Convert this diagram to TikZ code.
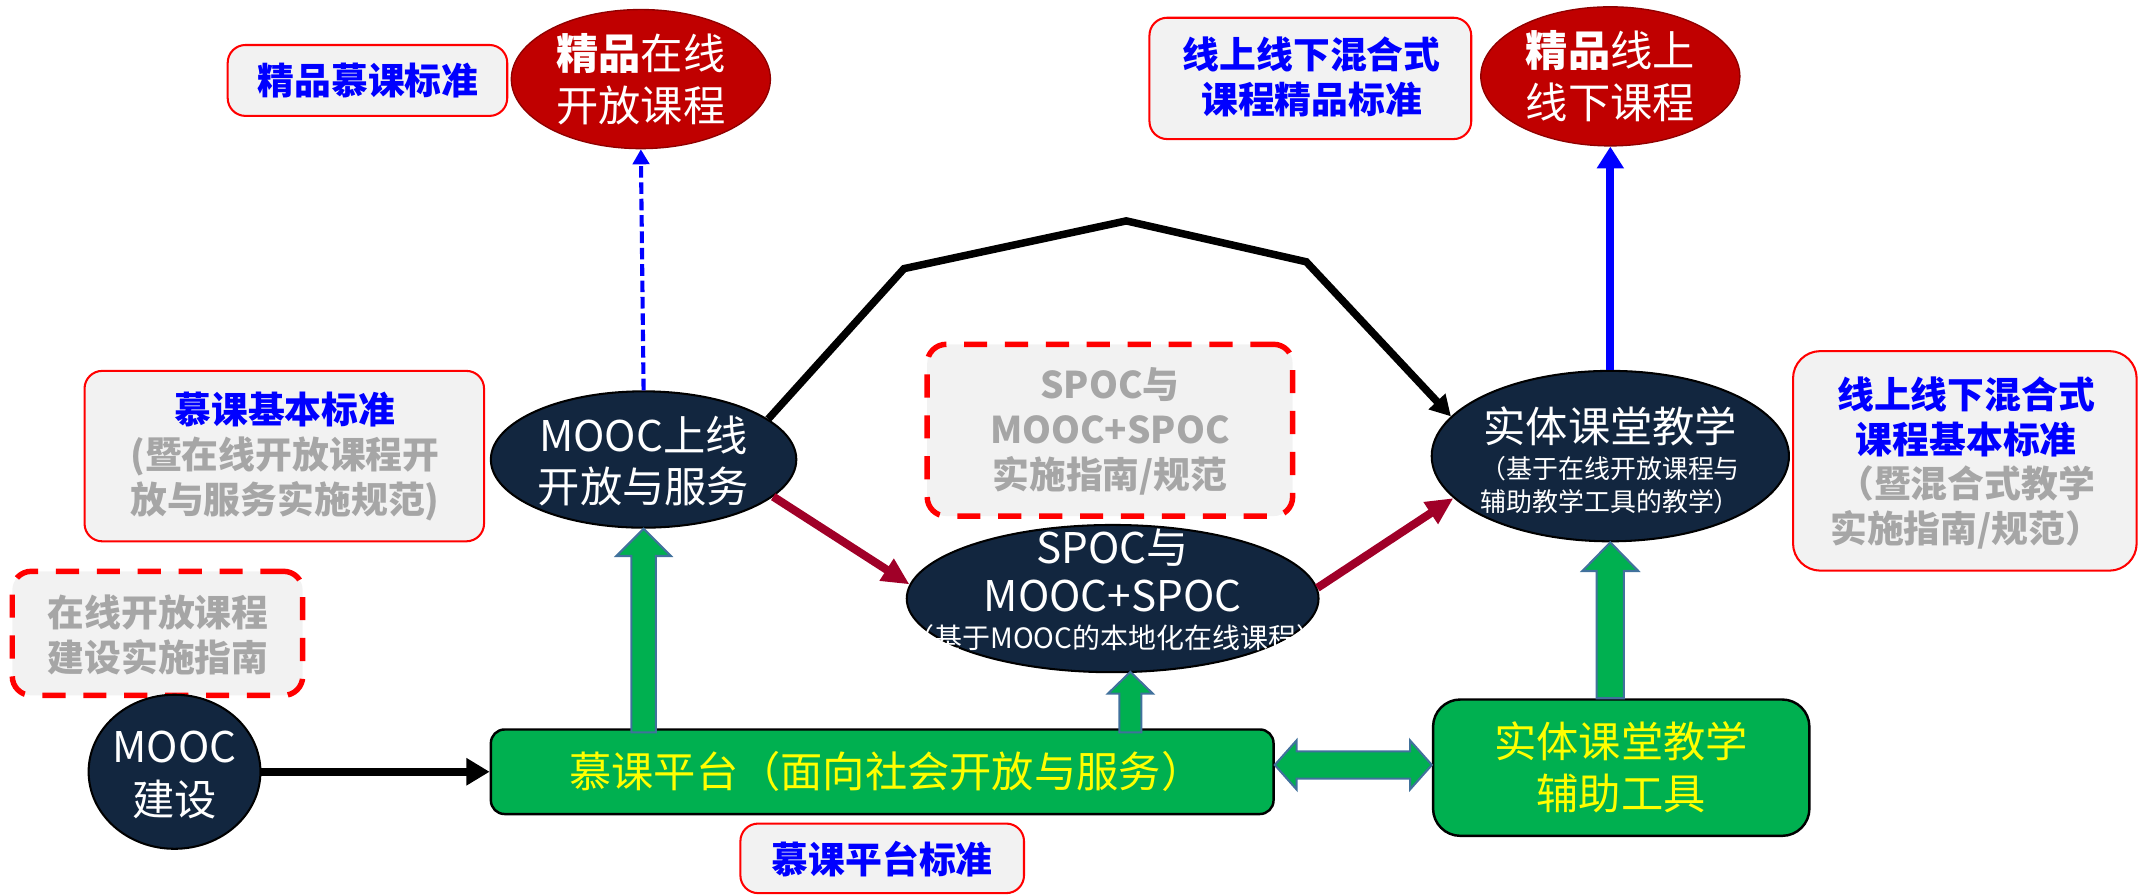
\documentclass[tikz,border=0pt]{standalone}
\usepackage{fontspec}
\setmainfont{Noto Sans CJK SC}
\usetikzlibrary{shapes.geometric,arrows.meta,calc}
\definecolor{navy}{HTML}{12263F}
\definecolor{dred}{HTML}{C00000}
\definecolor{crim}{RGB}{160,0,40}
\definecolor{lgray}{HTML}{F2F2F2}
\definecolor{tgray}{HTML}{A6A6A6}
\definecolor{ggreen}{HTML}{00B050}
\definecolor{sblue}{HTML}{41719C}
\definecolor{tblue}{HTML}{0000FF}
\definecolor{tyellow}{HTML}{FFFF00}
\begin{document}
\begin{tikzpicture}[x=1pt,y=-1pt,
  navyell/.style={ellipse,fill=navy,draw=black,line width=1.5pt,inner sep=0pt},
  redell/.style={ellipse,fill=dred,draw=dred!75!black,line width=1pt,inner sep=0pt},
  stdbox/.style={rectangle,rounded corners=13pt,fill=lgray,draw=red,line width=1.5pt,inner sep=0pt},
  dashbox/.style={rectangle,rounded corners=14pt,fill=lgray,draw=red,line width=4pt,dash pattern=on 17pt off 13pt,inner sep=0pt},
  greenbox/.style={rectangle,rounded corners=10pt,fill=ggreen,draw=black,line width=1.8pt,inner sep=0pt},
  wtxt/.style={text=white,align=center,inner sep=0pt,font=\fontsize{31}{38}\selectfont},
  smtxt/.style={text=white,align=center,inner sep=0pt,font=\fontsize{19}{24}\selectfont},
  ytxt/.style={text=tyellow,align=center,inner sep=0pt,font=\fontsize{31}{38}\selectfont},
  btxt/.style={text=tblue,align=center,inner sep=0pt,font=\bfseries\fontsize{27}{33}\selectfont},
  gtxt/.style={text=tgray,align=center,inner sep=0pt,font=\bfseries\fontsize{27}{33}\selectfont},
  garrow/.style={fill=ggreen,draw=sblue,line width=1.5pt,line join=miter}
]
\useasboundingbox (0,0) rectangle (1568,656);

% ---------- shapes ----------
\node[redell,minimum width=190pt,minimum height=102pt] (jp1) at (470,58) {};
\node[redell,minimum width=190pt,minimum height=102pt] (jp2) at (1181,56) {};
\node[stdbox,minimum width=205pt,minimum height=52pt] (b1) at (269.5,59) {};
\node[stdbox,minimum width=236pt,minimum height=89pt] (b2) at (961,57.5) {};
\node[stdbox,minimum width=293pt,minimum height=125pt] (b3) at (208.5,334.5) {};
\node[dashbox,minimum width=268pt,minimum height=126pt] (b4) at (814,315.5) {};
\node[stdbox,minimum width=252pt,minimum height=161pt,rounded corners=20pt] (b5) at (1441,338) {};
\node[dashbox,minimum width=213pt,minimum height=91pt] (b6) at (115.5,464.5) {};
\node[stdbox,minimum width=208pt,minimum height=51pt] (b7) at (647,629.5) {};
\node[navyell,minimum width=224pt,minimum height=100pt] (moocon) at (472,337) {};
\node[navyell,minimum width=302pt,minimum height=108pt] (spoc) at (816,439) {};
\node[navyell,minimum width=262pt,minimum height=125pt] (shiti) at (1181,334.5) {};
\node[navyell,minimum width=126pt,minimum height=113pt] (moocjs) at (128,566) {};
\node[greenbox,minimum width=574pt,minimum height=62pt] (platform) at (647,566) {};
\node[greenbox,minimum width=276pt,minimum height=100pt,rounded corners=20pt] (tool) at (1189,563) {};

% ---------- texts ----------
\node[wtxt] (jp1t) at (470,58) {{\bfseries 精品}在线\\开放课程};
\node[wtxt] (jp2t) at (1181,56) {{\bfseries 精品}线上\\线下课程};
\node[btxt] (b1t) at (270,59) {精品慕课标准};
\node[btxt] (b2t) at (962,56.5) {线上线下混合式\\课程精品标准};
\node[btxt] (b3t) at (209,300) {慕课基本标准};
\node[gtxt] (b3g) at (209,351.5) {(暨在线开放课程开\\放与服务实施规范)};
\node[gtxt] (b4t) at (814,316) {SPOC与\\MOOC+SPOC\\实施指南/规范};
\node[btxt] (b5t) at (1442,306) {线上线下混合式\\课程基本标准};
\node[gtxt] (b5g) at (1442,372) {（暨混合式教学\\实施指南/规范）};
\node[gtxt] (b6t) at (116,466) {在线开放课程\\建设实施指南};
\node[btxt] (b7t) at (647,630) {慕课平台标准};
\node[wtxt,font=\fontsize{31}{37}\selectfont] (mooct) at (472,338) {MOOC上线\\开放与服务};
\node[wtxt,font=\fontsize{31}{35}\selectfont] (spoct) at (816,418.5) {SPOC与\\MOOC+SPOC};
\node[smtxt,font=\fontsize{20.5}{24}\selectfont] (spocs) at (818,468) {（基于MOOC的本地化在线课程）};
\node[wtxt] (shitit) at (1181,313) {实体课堂教学};
\node[smtxt] (shitis) at (1181,356) {（基于在线开放课程与\\辅助教学工具的教学）};
\node[wtxt,font=\fontsize{31}{39}\selectfont] (moocjst) at (128,568.5) {MOOC\\建设};
\node[ytxt] (platformt) at (650,566) {慕课平台（面向社会开放与服务）};
\node[ytxt] (toolt) at (1189,563) {实体课堂教学\\辅助工具};

% ---------- connectors ----------
\draw[tblue,line width=3pt,dash pattern=on 8.5pt off 3.5pt,-{Triangle[length=11pt,width=12pt]}] (moocon.north) -- (jp1.south);
\draw[tblue,line width=6pt,-{Triangle[length=16pt,width=19pt]}] (shiti.north) -- (jp2.south);
\coordinate (k1) at (663,197);
\coordinate (k2) at (826,162);
\coordinate (k3) at (958,192);
\draw[black,line width=5.5pt,line join=miter,-{Triangle[length=15pt,width=16pt]}] (moocon.18) -- (k1) -- (k2) -- (k3) -- (shiti.166);
\draw[black,line width=6pt,-{Triangle[length=17pt,width=19pt]}] (moocjs.east) -- (platform.west);
\draw[crim,line width=6pt,-{Triangle[length=20pt,width=18pt]}] (moocon.-16) -- (spoc.176);
\draw[crim,line width=6pt,-{Triangle[length=20pt,width=18pt]}] (spoc.3) -- (shiti.195);

% green block arrows
\filldraw[garrow] let \p1=(moocon.south), \p2=(platform.north) in
  (\x1-9pt,\y2-3pt) -- (\x1-9pt,\y1-20pt) -- (\x1-20pt,\y1-20pt) -- (\x1,\y1) -- (\x1+20pt,\y1-20pt) -- (\x1+9pt,\y1-20pt) -- (\x1+9pt,\y2-3pt) -- cycle;
\filldraw[garrow] let \p1=($(spoc.south)+(13,-1)$), \p2=(platform.north) in
  (\x1-8pt,\y2-3pt) -- (\x1-8pt,\y1-16pt) -- (\x1-16.5pt,\y1-16pt) -- (\x1,\y1) -- (\x1+16.5pt,\y1-16pt) -- (\x1+8pt,\y1-16pt) -- (\x1+8pt,\y2-3pt) -- cycle;
\filldraw[garrow] let \p1=(shiti.south), \p2=(tool.north) in
  (\x1-10pt,\y2) -- (\x1-10pt,\y1-21pt) -- (\x1-20.5pt,\y1-21pt) -- (\x1,\y1) -- (\x1+20.5pt,\y1-21pt) -- (\x1+10pt,\y1-21pt) -- (\x1+10pt,\y2) -- cycle;
\filldraw[garrow] let \p1=(platform.east), \p2=(tool.west), \n1={\y2+2pt} in
  (\x1,\n1) -- (\x1+16pt,\n1+18pt) -- (\x1+16pt,\n1+10pt) -- (\x2-16pt,\n1+10pt) -- (\x2-16pt,\n1+18pt) -- (\x2,\n1) -- (\x2-16pt,\n1-18pt) -- (\x2-16pt,\n1-10pt) -- (\x1+16pt,\n1-10pt) -- (\x1+16pt,\n1-18pt) -- cycle;
\end{tikzpicture}
\end{document}
